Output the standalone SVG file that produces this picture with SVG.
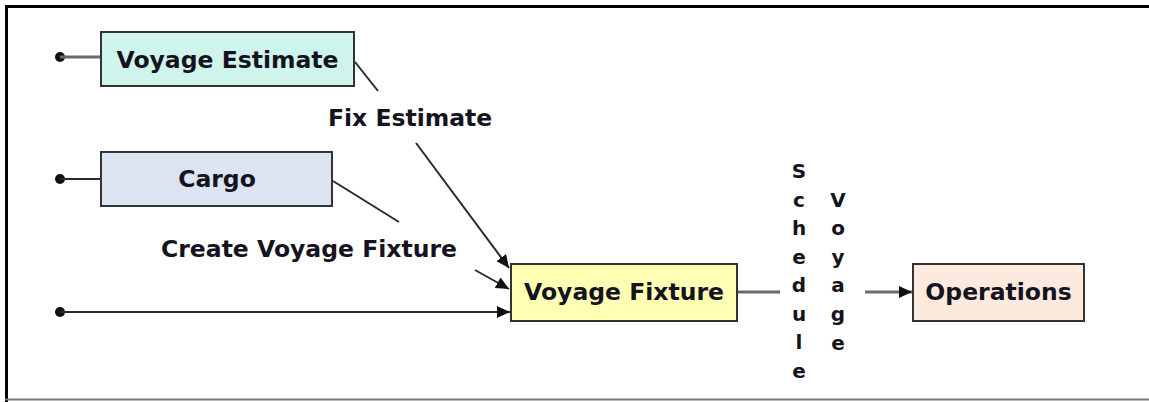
<svg xmlns="http://www.w3.org/2000/svg" width="1149" height="402" viewBox="0 0 1149 402">
  <defs>
    <marker id="arr" markerUnits="userSpaceOnUse" markerWidth="14" markerHeight="12" refX="13" refY="6" orient="auto">
      <path d="M0,0 L13,6 L0,12 z" fill="#111"/>
    </marker>
    <style>
      .box { stroke: #333; stroke-width: 2; }
      .lbl { font-family: "DejaVu Sans", "Verdana", sans-serif; font-weight: bold; font-size: 23.5px; fill: #141420; }
      .vlbl { font-family: "DejaVu Sans", "Verdana", sans-serif; font-weight: bold; font-size: 20px; fill: #141420; text-anchor: middle; }
      .ln { stroke: #2a2a2a; stroke-width: 2; fill: none; }
      .gln { stroke: #6a6a6a; stroke-width: 3; fill: none; }
    </style>
  </defs>

  <rect width="1149" height="402" fill="#ffffff"/>
  <!-- frame -->
  <path d="M6.5,402 L6.5,6.5 L1149,6.5" fill="none" stroke="#000" stroke-width="3"/>
  <line x1="5" y1="399.5" x2="1149" y2="399.5" stroke="#777" stroke-width="2"/>

  <g id="connectors">
    <circle cx="60" cy="57" r="5" fill="#111"/>
    <line class="gln" x1="60" y1="57" x2="101" y2="57"/>
    <circle cx="60" cy="179" r="5" fill="#111"/>
    <line class="ln" x1="60" y1="179" x2="101" y2="179"/>
    <circle cx="60" cy="312" r="5" fill="#111"/>
    <line class="ln" x1="60" y1="312" x2="510" y2="312" marker-end="url(#arr)"/>

    <line class="ln" x1="355" y1="62" x2="378" y2="91"/>
    <line class="ln" x1="416" y1="143" x2="509" y2="268" marker-end="url(#arr)"/>

    <line class="ln" x1="333" y1="181" x2="399" y2="222"/>
    <line class="ln" x1="475" y1="270" x2="509" y2="289" marker-end="url(#arr)"/>

    <line class="gln" x1="737" y1="292" x2="780" y2="292"/>
    <line class="gln" x1="865" y1="292" x2="912" y2="292" marker-end="url(#arr)"/>

    <text class="lbl" x="328" y="126">Fix Estimate</text>
    <text class="lbl" x="161" y="257">Create Voyage Fixture</text>

    <g id="label-schedule">
      <text class="vlbl" x="799" y="178">S</text>
      <text class="vlbl" x="799" y="207">c</text>
      <text class="vlbl" x="799" y="235">h</text>
      <text class="vlbl" x="799" y="264">e</text>
      <text class="vlbl" x="799" y="292">d</text>
      <text class="vlbl" x="799" y="321">u</text>
      <text class="vlbl" x="799" y="349">l</text>
      <text class="vlbl" x="799" y="378">e</text>
    </g>
    <g id="label-voyage">
      <text class="vlbl" x="838" y="207">V</text>
      <text class="vlbl" x="838" y="235">o</text>
      <text class="vlbl" x="838" y="264">y</text>
      <text class="vlbl" x="838" y="292">a</text>
      <text class="vlbl" x="838" y="321">g</text>
      <text class="vlbl" x="838" y="350">e</text>
    </g>
  </g>

  <g id="voyage-estimate">
    <rect class="box" x="101" y="32" width="253" height="54" fill="#cff4ec"/>
    <text class="lbl" x="227.5" y="68" text-anchor="middle">Voyage Estimate</text>
  </g>

  <g id="cargo">
    <rect class="box" x="101" y="152" width="231" height="54" fill="#dbe4f0"/>
    <text class="lbl" x="217" y="187" text-anchor="middle">Cargo</text>
  </g>

  <g id="voyage-fixture">
    <rect class="box" x="511" y="264" width="226" height="57" fill="#ffffb4"/>
    <text class="lbl" x="624" y="300" text-anchor="middle">Voyage Fixture</text>
  </g>

  <g id="operations">
    <rect class="box" x="913" y="264" width="171" height="57" fill="#fdeade"/>
    <text class="lbl" x="998.5" y="300" text-anchor="middle">Operations</text>
  </g>
</svg>
